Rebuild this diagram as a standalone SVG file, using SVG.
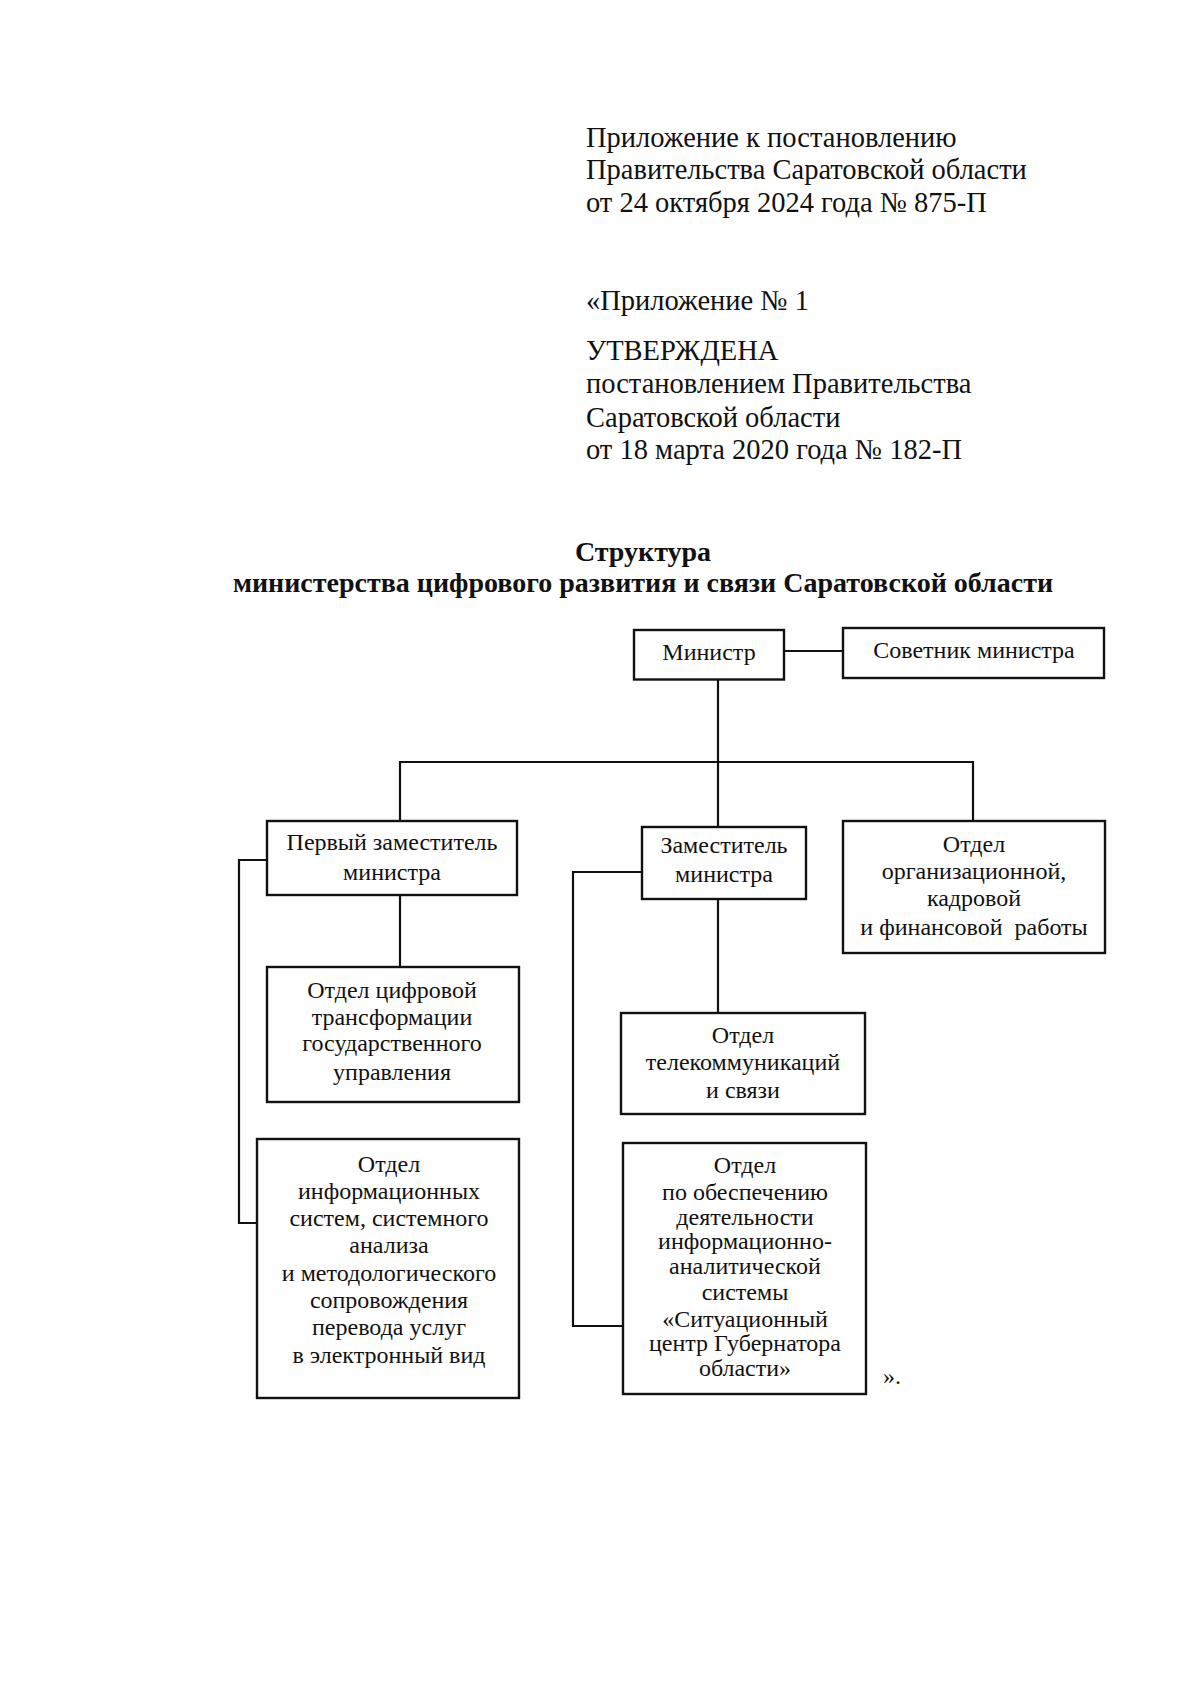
<svg xmlns="http://www.w3.org/2000/svg" width="1200" height="1691" viewBox="0 0 1200 1691">
<style>
text{font-family:"Liberation Serif","Times New Roman",serif;fill:#111;}
.hd{font-size:28.5px;}
.tt{font-size:28px;font-weight:bold;text-anchor:middle;}
.bx{font-size:24px;text-anchor:middle;}
rect{fill:#fff;stroke:#111;stroke-width:2.4;}
.ln{fill:none;stroke:#111;stroke-width:2.2;}
</style>
<rect x="0" y="0" width="1200" height="1691" style="fill:#fff;stroke:none"/>
<g id="header">
<text class="hd" x="586" y="146.5">Приложение к постановлению</text>
<text class="hd" x="586" y="179">Правительства Саратовской области</text>
<text class="hd" x="586" y="212">от 24 октября 2024 года № 875-П</text>
<text class="hd" x="586" y="310">«Приложение № 1</text>
<text class="hd" x="586" y="360">УТВЕРЖДЕНА</text>
<text class="hd" x="586" y="393">постановлением Правительства</text>
<text class="hd" x="586" y="427">Саратовской области</text>
<text class="hd" x="586" y="459">от 18 марта 2020 года № 182-П</text>
</g>
<g id="title">
<text class="tt" x="643" y="561">Структура</text>
<text class="tt" x="643" y="592">министерства цифрового развития и связи Саратовской области</text>
</g>
<g id="connectors">
<path class="ln" d="M784 651H843"/>
<path class="ln" d="M718 679V762"/>
<path class="ln" d="M400 821V762H973V821"/>
<path class="ln" d="M718 762V827"/>
<path class="ln" d="M400 895V967"/>
<path class="ln" d="M718 899V1013"/>
<path class="ln" d="M267 860H239V1223H257"/>
<path class="ln" d="M642 872H573V1326H623"/>
</g>
<g id="minister">
<rect x="634" y="630" width="150" height="49.5"/>
<text class="bx" x="709" y="660">Министр</text>
</g>
<g id="advisor">
<rect x="843" y="628" width="261" height="50"/>
<text class="bx" x="974" y="658">Советник министра</text>
</g>
<g id="first-deputy">
<rect x="267" y="821" width="250" height="74"/>
<text class="bx" x="392" y="850">Первый заместитель</text>
<text class="bx" x="392" y="880">министра</text>
</g>
<g id="deputy">
<rect x="642" y="827" width="164" height="72"/>
<text class="bx" x="724" y="853">Заместитель</text>
<text class="bx" x="724" y="882">министра</text>
</g>
<g id="dept-org">
<rect x="843" y="821" width="262" height="132"/>
<text class="bx" x="974" y="852">Отдел</text>
<text class="bx" x="974" y="879">организационной,</text>
<text class="bx" x="974" y="906">кадровой</text>
<text class="bx" x="974" y="935" xml:space="preserve">и финансовой  работы</text>
</g>
<g id="dept-digital">
<rect x="267" y="967" width="252" height="135"/>
<text class="bx" x="392" y="998">Отдел цифровой</text>
<text class="bx" x="392" y="1025">трансформации</text>
<text class="bx" x="392" y="1051">государственного</text>
<text class="bx" x="392" y="1080">управления</text>
</g>
<g id="dept-info">
<rect x="257" y="1139" width="262" height="259"/>
<text class="bx" x="389" y="1172">Отдел</text>
<text class="bx" x="389" y="1199">информационных</text>
<text class="bx" x="389" y="1226">систем, системного</text>
<text class="bx" x="389" y="1253">анализа</text>
<text class="bx" x="389" y="1281">и методологического</text>
<text class="bx" x="389" y="1308">сопровождения</text>
<text class="bx" x="389" y="1335">перевода услуг</text>
<text class="bx" x="389" y="1363">в электронный вид</text>
</g>
<g id="dept-telecom">
<rect x="621" y="1013" width="244" height="101"/>
<text class="bx" x="743" y="1043">Отдел</text>
<text class="bx" x="743" y="1070">телекоммуникаций</text>
<text class="bx" x="743" y="1098">и связи</text>
</g>
<g id="dept-situation">
<rect x="623" y="1143" width="243" height="251"/>
<text class="bx" x="745" y="1173">Отдел</text>
<text class="bx" x="745" y="1200">по обеспечению</text>
<text class="bx" x="745" y="1225">деятельности</text>
<text class="bx" x="745" y="1249">информационно-</text>
<text class="bx" x="745" y="1274">аналитической</text>
<text class="bx" x="745" y="1300">системы</text>
<text class="bx" x="745" y="1327">«Ситуационный</text>
<text class="bx" x="745" y="1351">центр Губернатора</text>
<text class="bx" x="745" y="1376">области»</text>
</g>
<text class="bx" x="883" y="1384" style="text-anchor:start">».</text>
</svg>
